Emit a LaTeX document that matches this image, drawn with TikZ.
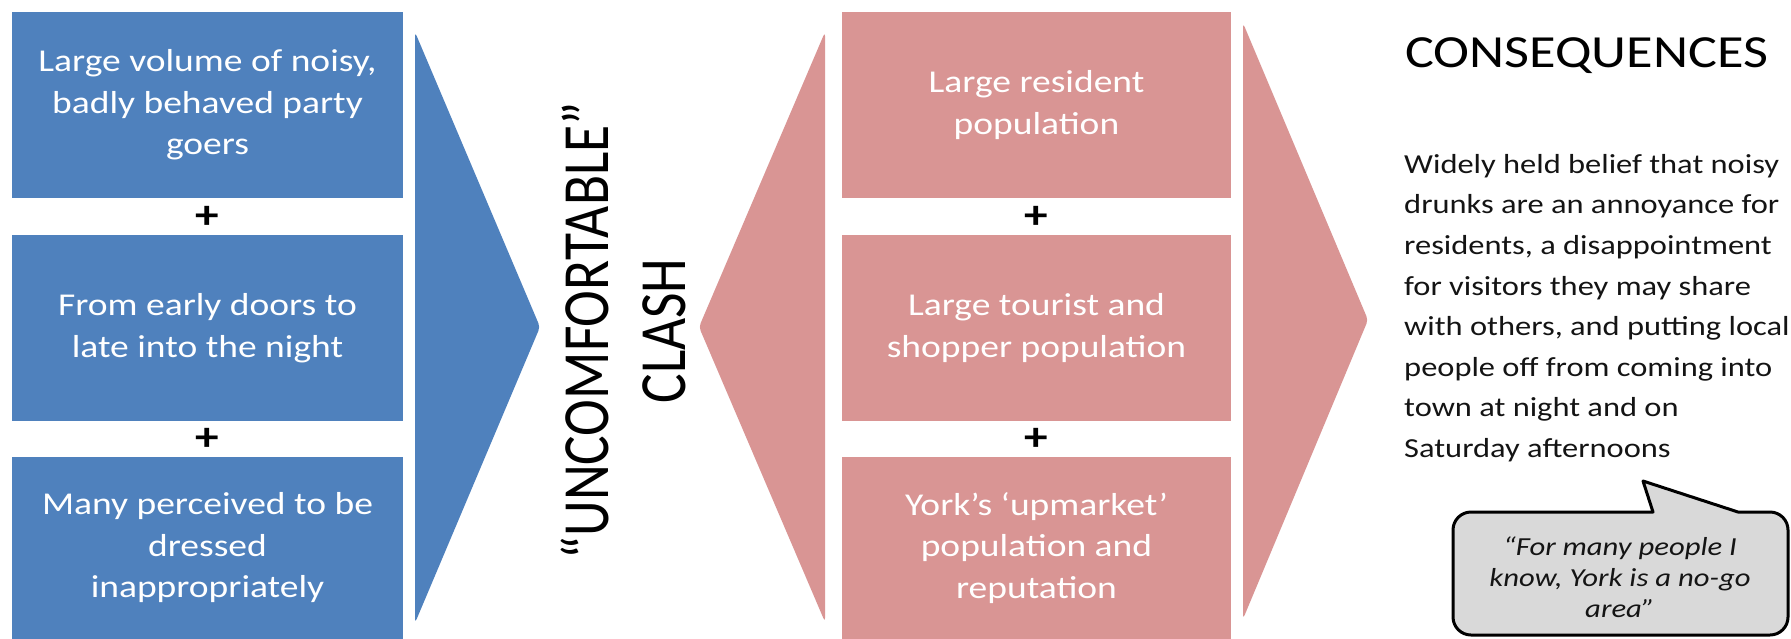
\documentclass[tikz,border=0pt]{standalone}
\usepackage{fontspec}
\setmainfont{Carlito}[FakeStretch=1.18]
\newfontfamily\rotfont{Carlito}[FakeStretch=0.84]
\definecolor{blueC}{HTML}{4F81BD}
\definecolor{pinkC}{HTML}{D99594}
\definecolor{bodyC}{HTML}{141414}
\definecolor{calloutC}{HTML}{D9D9D9}
\begin{document}
\begin{tikzpicture}[x=1pt,y=-1pt,
  bluebox/.style={fill=blueC, draw=none, minimum width=391pt, inner sep=0pt},
  pinkbox/.style={fill=pinkC, draw=none, minimum width=389pt, inner sep=0pt},
  boxtext/.style={text=white, align=center, font=\fontsize{31.8}{41.5}\selectfont},
  plussign/.style={font=\bfseries\fontsize{40}{40}\selectfont, inner sep=0pt},
  wedge/.style={rounded corners=4pt}
]
\useasboundingbox[fill=white] (0,0) rectangle (1791,638);

% left blue boxes
\node[bluebox, boxtext, minimum height=186pt] (b1) at (207.5,105) {Large volume of noisy,\\badly behaved party\\goers};
\node[bluebox, boxtext, minimum height=186pt] (b2) at (207.5,328) {From early doors to\\late into the night};
\node[bluebox, boxtext, minimum height=182pt] (b3) at (207.5,548) {Many perceived to be\\dressed\\inappropriately};
\node[plussign] (p1) at (207.5,217) {+};
\node[plussign] (p2) at (207.5,439) {+};

% blue wedge
\fill[blueC, wedge] (415,32) -- (540,327) -- (415,623) -- cycle;

% rotated label
\node[rotate=90, align=center, font=\rotfont\fontsize{66}{77}\selectfont] (clash) at (623,331) {“UNCOMFORTABLE”\\CLASH};

% pink left wedge
\fill[pinkC, wedge] (825,32) -- (699,327) -- (825,622) -- cycle;

% pink boxes
\node[pinkbox, boxtext, minimum height=186pt] (r1) at (1036.5,105) {Large resident\\population};
\node[pinkbox, boxtext, minimum height=186pt] (r2) at (1036.5,328) {Large tourist and\\shopper population};
\node[pinkbox, boxtext, minimum height=182pt] (r3) at (1036.5,548) {York’s ‘upmarket’\\population and\\reputation};
\node[plussign] (q1) at (1036.5,217) {+};
\node[plussign] (q2) at (1036.5,439) {+};

% pink right arrow
\fill[pinkC, wedge] (1243,23) -- (1368,320) -- (1243,619) -- cycle;

% consequences
\node[anchor=base west, inner sep=0pt, font=\fontsize{46}{52}\selectfont] (cons) at (1405,67) {CONSEQUENCES};
\node[anchor=north west, inner sep=0pt, align=left, text=bodyC, font=\fontsize{27.5}{40.6}\selectfont] (body) at (1404,154) {Widely held belief that noisy\\drunks are an annoyance for\\residents, a disappointment\\for visitors they may share\\with others, and putting local\\people off from coming into\\town at night and on\\Saturday afternoons};

% callout
\draw[line width=3pt, fill=calloutC, line join=round]
  (1653,512) -- (1643,481) -- (1738,512) -- (1760,512)
  [rounded corners=18pt] -- (1788,512) -- (1788,635) -- (1453,635) -- (1453,512) -- (1630,512)
  [sharp corners] -- cycle;
\node[align=center, text=bodyC, font=\itshape\fontsize{26}{31}\selectfont] (quote) at (1620,577) {“For many people I\\know, York is a no-go\\area”};
\end{tikzpicture}
\end{document}
